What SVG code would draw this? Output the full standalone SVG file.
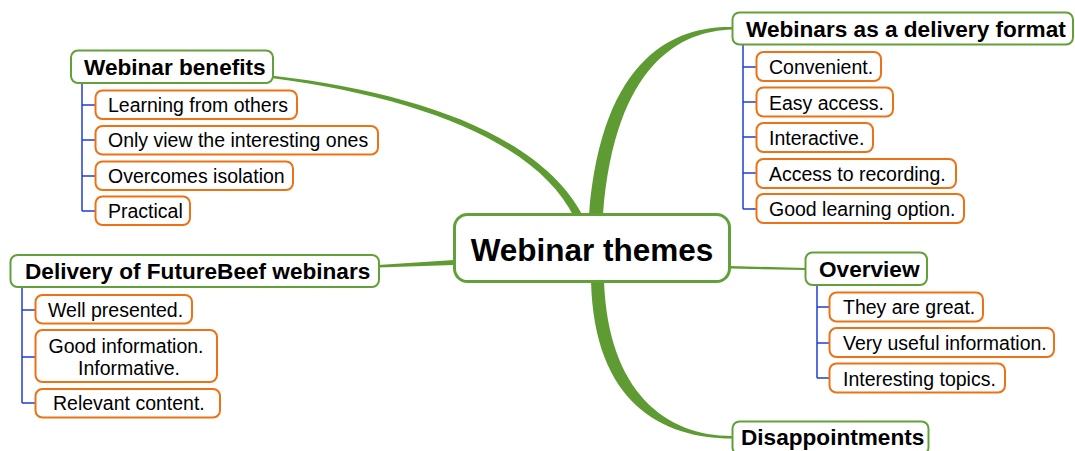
<svg xmlns="http://www.w3.org/2000/svg" width="1075" height="451" viewBox="0 0 1075 451">
<style>
.bg{fill:#ffffff}
.center{fill:#ffffff;stroke:#62a03a;stroke-width:3}
.head{fill:#ffffff;stroke:#62a03a;stroke-width:2}
.leaf{fill:#ffffff;stroke:#ec7215;stroke-width:2}
.tc{font-family:"Liberation Sans",Arial,sans-serif;font-weight:bold;font-size:31.5px;fill:#000}
.th{font-family:"Liberation Sans",Arial,sans-serif;font-weight:bold;font-size:22.6px;fill:#000}
.tl{font-family:"Liberation Sans",Arial,sans-serif;font-size:19.5px;fill:#000}
.br{fill:#5f9b33;stroke:none}
.bl{fill:none;stroke:#1f3fd4;stroke-width:1.5}
</style>
<rect class="bg" x="0" y="0" width="1075" height="451"/>
<g id="connectors">
  <path class="br" d="M583,216 C542.4,137.4 420.6,92.6 273.1,75.8 L272.9,78.2 C419.4,97.4 537.6,142.6 574,217 Z"/>
  <path class="br" d="M589,215 C602,51 680,26 732,27 L732,29.5 C682,31 615,62 603,215 Z"/>
  <path class="br" d="M378,265 L454,260 L454,265 L378,267.5 Z"/>
  <path class="br" d="M730,266 L805,268 L805,270 L730,268.5 Z"/>
  <path class="br" d="M591,281 C594,403 662,438.5 732,438.5 L732,436 C666,436 608,392 604,281 Z"/>
  <path class="bl" d="M82,83 V211 M82,105 H95 M82,140 H95 M82,176 H95 M82,211 H95"/>
  <path class="bl" d="M22,287 V403 M22,310 H35 M22,357 H35 M22,403 H35"/>
  <path class="bl" d="M743,44 V209 M743,67 H756 M743,102 H756 M743,137 H756 M743,173 H756 M743,209 H756"/>
  <path class="bl" d="M817,285 V378 M817,307 H829 M817,343 H829 M817,378 H829"/>
</g>
<g id="center">
  <rect class="center" x="454.5" y="214.5" width="275" height="67" rx="13"/>
  <text class="tc" x="592" y="261" text-anchor="middle">Webinar themes</text>
</g>
<g id="webinar-benefits">
  <rect class="head" x="71" y="50.5" width="202" height="32.5" rx="7"/>
  <text class="th" x="84" y="75">Webinar benefits</text>
</g>
<g id="learning-from-others">
  <rect class="leaf" x="95.5" y="90.5" width="201.5" height="28.5" rx="7"/>
  <text class="tl" x="108" y="112">Learning from others</text>
</g>
<g id="only-view">
  <rect class="leaf" x="95.5" y="126" width="282.5" height="28.5" rx="7"/>
  <text class="tl" x="108" y="147">Only view the interesting ones</text>
</g>
<g id="overcomes-isolation">
  <rect class="leaf" x="95.5" y="161.5" width="197.5" height="28.5" rx="7"/>
  <text class="tl" x="108" y="183">Overcomes isolation</text>
</g>
<g id="practical">
  <rect class="leaf" x="95.5" y="196.5" width="94.5" height="28.5" rx="7"/>
  <text class="tl" x="108" y="218">Practical</text>
</g>
<g id="delivery-futurebeef">
  <rect class="head" x="10.5" y="255" width="368.5" height="32" rx="7"/>
  <text class="th" x="25" y="279">Delivery of FutureBeef webinars</text>
</g>
<g id="well-presented">
  <rect class="leaf" x="35.5" y="295" width="156.5" height="28.5" rx="7"/>
  <text class="tl" x="48" y="317">Well presented.</text>
</g>
<g id="good-information">
  <rect class="leaf" x="35.5" y="330" width="181.5" height="52" rx="7"/>
  <text class="tl" x="126" y="353" text-anchor="middle">Good information.</text>
  <text class="tl" x="129" y="375" text-anchor="middle">Informative.</text>
</g>
<g id="relevant-content">
  <rect class="leaf" x="35.5" y="389" width="184.5" height="28.5" rx="7"/>
  <text class="tl" x="53" y="410">Relevant content.</text>
</g>
<g id="webinars-delivery-format">
  <rect class="head" x="732.5" y="12.5" width="340.5" height="32" rx="7"/>
  <text class="th" x="746" y="37">Webinars as a delivery format</text>
</g>
<g id="convenient">
  <rect class="leaf" x="756.5" y="52" width="124.5" height="29" rx="7"/>
  <text class="tl" x="769" y="74">Convenient.</text>
</g>
<g id="easy-access">
  <rect class="leaf" x="756.5" y="87.5" width="136.5" height="29" rx="7"/>
  <text class="tl" x="769" y="110">Easy access.</text>
</g>
<g id="interactive">
  <rect class="leaf" x="756.5" y="123" width="116.5" height="29" rx="7"/>
  <text class="tl" x="769" y="145">Interactive.</text>
</g>
<g id="access-recording">
  <rect class="leaf" x="756.5" y="159" width="199.5" height="29" rx="7"/>
  <text class="tl" x="769" y="181">Access to recording.</text>
</g>
<g id="good-learning">
  <rect class="leaf" x="756.5" y="194" width="207.5" height="29" rx="7"/>
  <text class="tl" x="769" y="216">Good learning option.</text>
</g>
<g id="overview">
  <rect class="head" x="805.5" y="252.5" width="121.5" height="32.5" rx="7"/>
  <text class="th" x="819" y="277">Overview</text>
</g>
<g id="they-are-great">
  <rect class="leaf" x="829.5" y="292.5" width="153.5" height="29" rx="7"/>
  <text class="tl" x="843" y="314">They are great.</text>
</g>
<g id="very-useful">
  <rect class="leaf" x="829.5" y="328" width="224.5" height="29" rx="7"/>
  <text class="tl" x="843" y="350">Very useful information.</text>
</g>
<g id="interesting-topics">
  <rect class="leaf" x="829.5" y="363.5" width="175.5" height="29" rx="7"/>
  <text class="tl" x="843" y="386">Interesting topics.</text>
</g>
<g id="disappointments">
  <rect class="head" x="732.5" y="421.5" width="196" height="33" rx="7"/>
  <text class="th" x="741" y="445">Disappointments</text>
</g>
</svg>
